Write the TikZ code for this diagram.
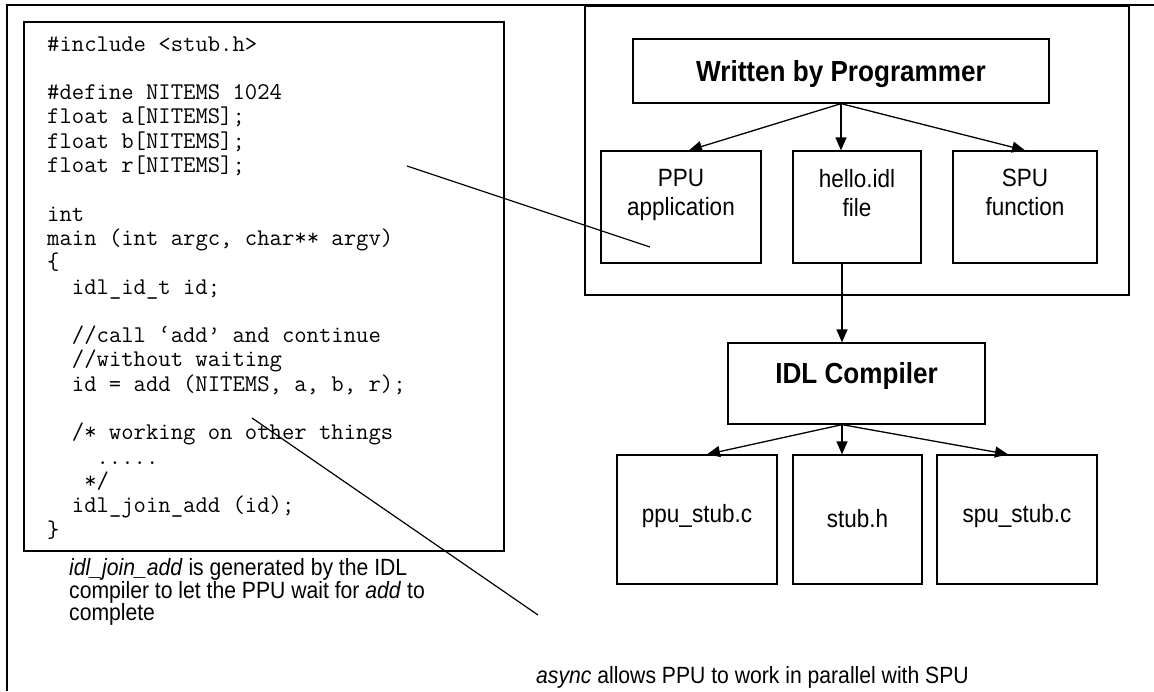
\documentclass[tikz,border=0pt]{standalone}
\usepackage{fontspec}
\setmainfont{Liberation Sans}
\newfontfamily\narrowfont[FakeStretch=0.9]{Liberation Sans}
\usetikzlibrary{arrows.meta,calc}

\tikzset{
  box/.style={draw, line width=1.3pt, rectangle, inner sep=0pt},
  frameline/.style={line width=1.3pt},
  codeline/.style={anchor=base west, inner sep=0pt, font=\ttfamily\fontsize{24}{24}\selectfont},
  boxtext/.style={inner sep=0pt, align=center, font=\narrowfont\fontsize{25}{29}\selectfont},
  titletext/.style={anchor=base, inner sep=0pt, font=\narrowfont\bfseries\fontsize{29}{33}\selectfont},
  note/.style={anchor=base west, inner sep=0pt, font=\narrowfont\fontsize{23.5}{27}\selectfont},
  flow/.style={line width=1.3pt, -{Triangle[length=13pt,width=11pt]}},
  pointer/.style={line width=1.2pt},
}

\begin{document}
\begin{tikzpicture}[x=1pt,y=-1pt]
\useasboundingbox (0,0) rectangle (1154,691);

% page frame (top and left rules)
\coordinate (fr-bl) at (7,691);
\coordinate (fr-tl) at (7,5);
\coordinate (fr-tr) at (1154,5);
\draw[frameline] (fr-bl) -- (fr-tl) -- (fr-tr);

% source listing
\node[box, minimum width=480pt, minimum height=529pt] (code) at (264,286.5) {};
\node[codeline] (l0)  at (47,51)    {\#include <stub.h>};
\node[codeline] (l2)  at (47,99.6)  {\#define NITEMS 1024};
\node[codeline] (l3)  at (47,123.9) {float a[NITEMS];};
\node[codeline] (l4)  at (47,148.2) {float b[NITEMS];};
\node[codeline] (l5)  at (47,172.5) {float r[NITEMS];};
\node[codeline] (l7)  at (47,221.1) {int};
\node[codeline] (l8)  at (47,245.4) {main (int argc, char** argv)};
\node[codeline] (l9)  at (47,269.7) {\{};
\node[codeline] (l10) at (47,294)   {\phantom{xx}idl\_id\_t id;};
\node[codeline] (l12) at (47,342.6) {\phantom{xx}//call ‘add’ and continue};
\node[codeline] (l13) at (47,366.9) {\phantom{xx}//without waiting};
\node[codeline] (l14) at (47,391.2) {\phantom{xx}id = add (NITEMS, a, b, r);};
\node[codeline] (l16) at (47,439.8) {\phantom{xx}/* working on other things};
\node[codeline] (l17) at (47,464.1) {\phantom{xxxx}.....};
\node[codeline] (l18) at (47,488.4) {\phantom{xxx}*/};
\node[codeline] (l19) at (47,512.7) {\phantom{xx}idl\_join\_add (id);};
\node[codeline] (l20) at (47,537)   {\}};

% notes under the listing
\node[note] (n1) at (69,575) {\textit{idl\_join\_add} is generated by the IDL};
\node[note] (n2) at (69,598) {compiler to let the PPU wait for \textit{add} to};
\node[note] (n3) at (69,620) {complete};
\node[note] (n4) at (536,683) {\textit{async} allows PPU to work in parallel with SPU};

% programmer-written inputs
\node[box, minimum width=544pt, minimum height=289pt] (prog) at (857,150.5) {};
\node[box, minimum width=416pt, minimum height=64pt] (written) at (841,71) {};
\node[titletext] (written-t) at (841,81) {Written by Programmer};
\node[box, minimum width=160pt, minimum height=112pt] (ppu) at (681,207) {};
\node[box, minimum width=128pt, minimum height=112pt] (hello) at (857,207) {};
\node[box, minimum width=144pt, minimum height=112pt] (spu) at (1025,207) {};
\node[boxtext, anchor=north] (ppu-t)   at (681,169)  {PPU\\application};
\node[boxtext, anchor=north] (hello-t) at (857,169)  {hello.idl\\file};
\node[boxtext, anchor=north] (spu-t)   at (1025,169) {SPU\\function};

% compiler and generated files
\node[box, minimum width=257pt, minimum height=81pt] (idl) at (856.5,383.5) {};
\node[titletext] (idl-t) at (856.5,383) {IDL Compiler};
\node[box, minimum width=160pt, minimum height=129pt] (ppustub) at (697,519.5) {};
\node[box, minimum width=129pt, minimum height=129pt] (stubh) at (857.5,519.5) {};
\node[box, minimum width=160pt, minimum height=129pt] (spustub) at (1017,519.5) {};
\node[boxtext, anchor=base] (ppustub-t) at (697,522)   {ppu\_stub.c};
\node[boxtext, anchor=base] (stubh-t)   at (857.5,527) {stub.h};
\node[boxtext, anchor=base] (spustub-t) at (1017,522)  {spu\_stub.c};

% flow arrows
\coordinate (axis) at (842,0);
\draw[flow] (written.south) -- ($(ppu.north)+(8,0)$);
\draw[flow] (written.south) -- (hello.north -| written.south);
\draw[flow] (written.south) -- (spu.north);
\draw[flow] (hello.south -| axis) -- (idl.north -| axis);
\draw[flow] (idl.south -| axis) -- ($(ppustub.north)+(10,0)$);
\draw[flow] (idl.south -| axis) -- (stubh.north -| axis);
\draw[flow] (idl.south -| axis) -- ($(spustub.north)+(-9,0)$);

% pointer lines
\coordinate (p1a) at (407,166);
\coordinate (p1b) at (650,247);
\draw[pointer] (p1a) -- (p1b);
\coordinate (p2a) at (252,418);
\coordinate (p2b) at (538,615);
\draw[pointer] (p2a) -- (p2b);
\end{tikzpicture}
\end{document}
